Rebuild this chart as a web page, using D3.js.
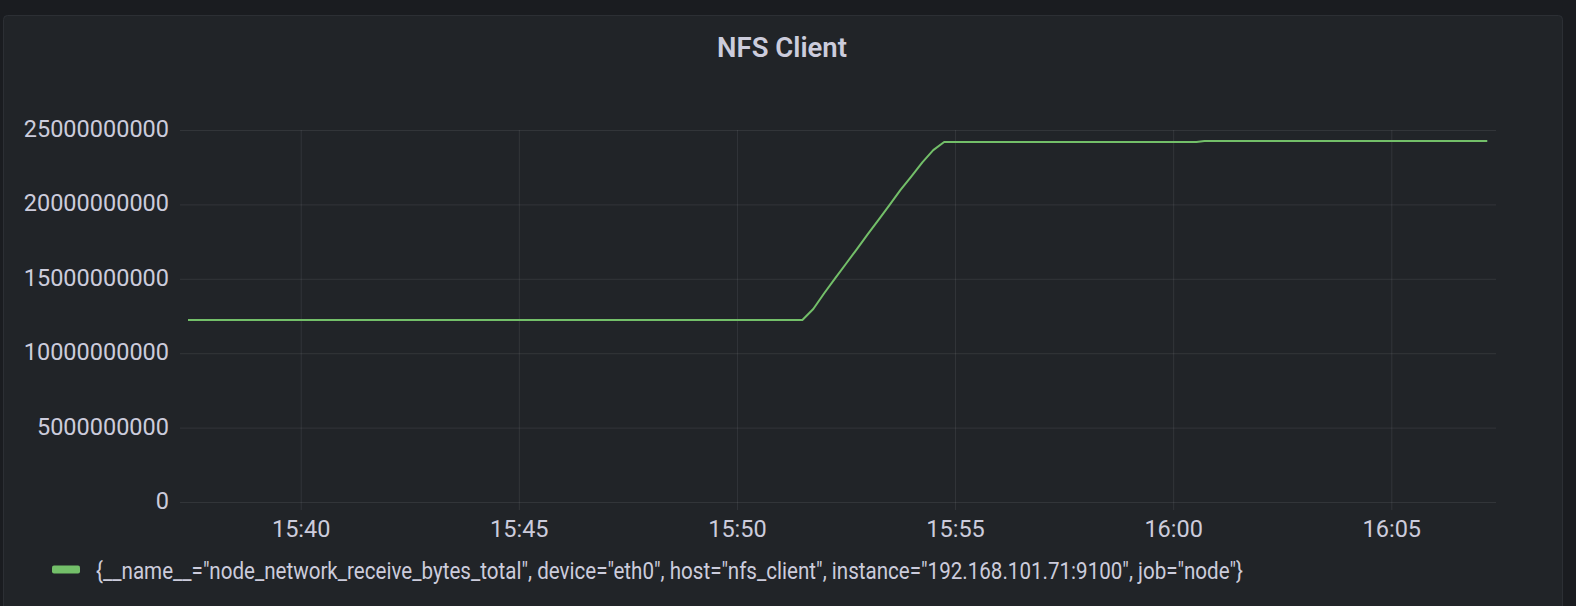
<!DOCTYPE html>
<html>
<head>
<meta charset="utf-8">
<script src="https://cdn.jsdelivr.net/npm/d3@7"></script>
<style>
  html, body { margin: 0; padding: 0; background: #1a1c20; }
  svg { display: block; }
</style>
</head>
<body>
<svg id="chart" width="1576" height="606"></svg>
<script>
// ---- data ----
const title = "NFS Client";
const seriesName = '{__name__="node_network_receive_bytes_total", device="eth0", host="nfs_client", instance="192.168.101.71:9100", job="node"}';
const times = [
  "15:37:25", "15:51:30", "15:51:45", "15:52:00", "15:52:15", "15:52:30", "15:52:45",
  "15:53:00", "15:53:15", "15:53:30", "15:53:45", "15:54:00", "15:54:15", "15:54:30",
  "15:54:45", "16:00:32", "16:00:43", "16:07:12"
];
const values = [
  12.23e9, 12.23e9, 12.97e9, 14.03e9, 15.03e9, 16.01e9, 17.00e9,
  18.00e9, 18.98e9, 19.97e9, 20.97e9, 21.89e9, 22.82e9, 23.65e9,
  24.19e9, 24.19e9, 24.26e9, 24.26e9
];
const yTicks = [0, 5000000000, 10000000000, 15000000000, 20000000000, 25000000000];
const xTickLabels = ["15:40", "15:45", "15:50", "15:55", "16:00", "16:05"];
const xDomain = ["15:37:14", "16:07:24"];

// ---- helpers ----
const parseT = s => { const [h, m, sec] = s.split(":").map(Number); return new Date(2021, 0, 1, h, m, sec || 0); };
const data = times.map((t, i) => ({ t: parseT(t), v: values[i] }));

const svg = d3.select("#chart");
const W = 1576, H = 606;
const plot = { left: 180, right: 1496, top: 130, bottom: 502 };
const textColor = "#ccccdc";
const gridColor = "rgba(204,204,220,0.1)";
const font = "Roboto, 'Noto Sans', sans-serif";

// panel
svg.append("rect").attr("x", 0).attr("y", 0).attr("width", W).attr("height", H).attr("fill", "#1a1c20");
svg.append("rect").attr("x", 3.5).attr("y", 15.5).attr("width", 1559).attr("height", 600)
  .attr("rx", 4).attr("fill", "#212428").attr("stroke", "#2c2f34").attr("stroke-width", 1);

// title
svg.append("text").attr("x", 782).attr("y", 57).attr("text-anchor", "middle")
  .attr("font-family", font).attr("font-weight", 600).attr("font-size", 27.5)
  .attr("fill", textColor).text(title);

// scales
const x = d3.scaleTime().domain(xDomain.map(parseT)).range([plot.left, plot.right]);
const y = d3.scaleLinear().domain([0, 25000000000]).range([plot.bottom, plot.top]);

// y axis (gridlines + labels)
const yAxis = d3.axisLeft(y).tickValues(yTicks).tickFormat(d3.format("d"))
  .tickSize(-(plot.right - plot.left)).tickPadding(11);
const gy = svg.append("g").attr("transform", `translate(${plot.left},0)`).call(yAxis);
gy.select(".domain").remove();
gy.selectAll(".tick line").attr("stroke", gridColor).attr("stroke-width", 1);
gy.selectAll(".tick text").attr("fill", textColor).attr("font-family", font)
  .attr("font-size", 23.5).attr("dy", "0.28em");

// x axis (gridlines + labels)
const xTickVals = xTickLabels.map(parseT);
const xAxis = d3.axisBottom(x).tickValues(xTickVals).tickFormat(d3.timeFormat("%H:%M"))
  .tickSize(-(plot.bottom - plot.top)).tickPadding(22);
const gx = svg.append("g").attr("transform", `translate(0,${plot.bottom})`).call(xAxis);
gx.select(".domain").remove();
gx.selectAll(".tick line").attr("stroke", gridColor).attr("stroke-width", 1).attr("y1", 8);
gx.selectAll(".tick text").attr("fill", textColor).attr("font-family", font)
  .attr("font-size", 23.5).attr("dy", "0.71em").attr("y", 18);

// line
const line = d3.line().x(d => x(d.t)).y(d => y(d.v));
svg.append("path").datum(data).attr("d", line)
  .attr("fill", "none").attr("stroke", "#73bf69").attr("stroke-width", 2)
  .attr("stroke-linejoin", "round");

// legend
svg.append("rect").attr("x", 52).attr("y", 565.5).attr("width", 28).attr("height", 8)
  .attr("rx", 2).attr("fill", "#73bf69");
svg.append("text").attr("x", 96).attr("y", 578.5)
  .attr("font-family", font).attr("font-size", 24).attr("fill", textColor)
  .attr("textLength", 1147).attr("lengthAdjust", "spacingAndGlyphs")
  .text(seriesName);
</script>
</body>
</html>
